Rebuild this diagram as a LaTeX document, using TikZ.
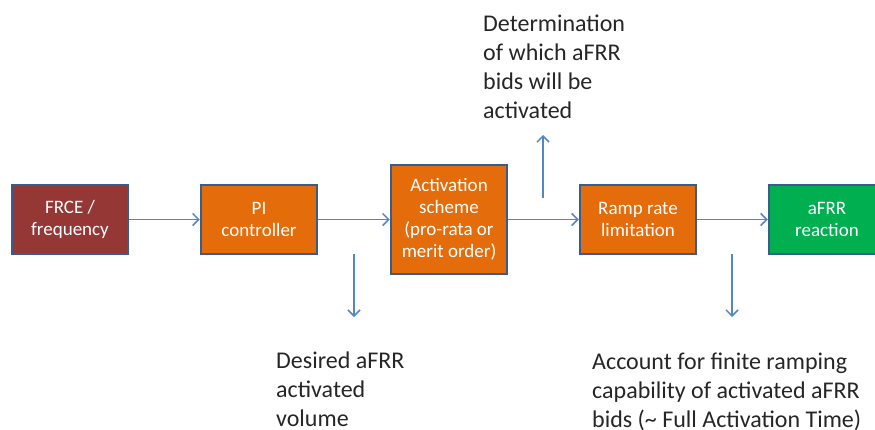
\documentclass[tikz,border=0pt]{standalone}
\usepackage{fontspec}
\setmainfont{Carlito}
\usetikzlibrary{arrows.meta}
\definecolor{frcered}{HTML}{953735}
\definecolor{boxorange}{HTML}{E46C0A}
\definecolor{boxgreen}{HTML}{00B050}
\definecolor{boxborder}{HTML}{385D8A}
\definecolor{arrowblue}{HTML}{5585C2}
\tikzset{
  block/.style={draw=boxborder, line width=2.5pt, text=white, align=center,
    minimum width=116pt, minimum height=69pt, inner sep=0pt,
    font=\fontsize{19}{22}\selectfont},
  flow/.style={draw=arrowblue, line width=1.5pt,
    -{Straight Barb[length=6pt,width=12pt,line width=1.5pt]}},
  note/.style={align=left, inner sep=0pt, anchor=base west, text=black!85,
    font=\fontsize{24}{28.8}\selectfont}
}
\begin{document}
\begin{tikzpicture}[x=1pt,y=-1pt]
\useasboundingbox (0,0) rectangle (875,429);
\begin{scope}
\clip (0,0) rectangle (875,429);
\node[block, fill=frcered] (frce) at (70,219.5) {FRCE /\\frequency};
\node[block, fill=boxorange] (pi) at (259,219.5) {PI\\controller};
\node[block, fill=boxorange, minimum height=109pt] (act) at (449,219.5) {Activation\\scheme\\(pro-rata or\\merit order)};
\node[block, fill=boxorange] (ramp) at (638,219.5) {Ramp rate\\limitation};
\node[block, fill=boxgreen] (afrr) at (827,219.5) {aFRR\\reaction};
\end{scope}

\draw[flow] (frce.east) -- (pi.west);
\draw[flow] (pi.east) -- (act.west);
\draw[flow] (act.east) -- (ramp.west);
\draw[flow] (ramp.east) -- (afrr.west);

\coordinate (d1s) at (354,254);
\coordinate (d1e) at (354,317);
\coordinate (ups) at (543,198);
\coordinate (upe) at (543,135);
\coordinate (d2s) at (732,254);
\coordinate (d2e) at (732,317);
\draw[flow] (d1s) -- (d1e);
\draw[flow] (ups) -- (upe);
\draw[flow] (d2s) -- (d2e);

\node[note] (det) at (483,118) {Determination\\of which aFRR\\bids will be\\activated};
\node[note] (des) at (276,426) {Desired aFRR\\activated\\volume};
\node[note] (acc) at (592,427) {Account for finite ramping\\capability of activated aFRR\\bids (\textasciitilde{} Full Activation Time)};
\end{tikzpicture}
\end{document}
